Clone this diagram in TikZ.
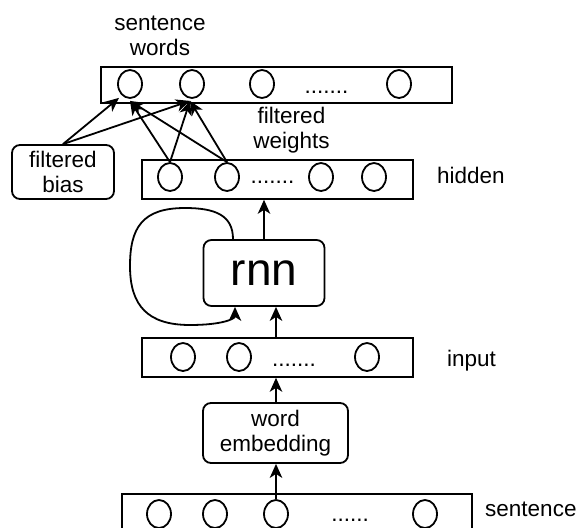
\documentclass[tikz,border=0pt]{standalone}
\usepackage{fontspec}
\setmainfont{Liberation Sans}
\usetikzlibrary{shapes.geometric,arrows.meta,calc}

\begin{document}
\begin{tikzpicture}[x=1pt,y=-1pt,
  every node/.style={font=\fontsize{22.5}{25.5}\selectfont},
  lw/.style={line width=1.8pt},
  layer/.style={draw, lw, rectangle, anchor=north west, inner sep=0},
  unit/.style={draw, lw, ellipse, minimum width=24pt, minimum height=28pt, inner sep=0},
  rbox/.style={draw, lw, rounded corners=8pt, align=center, inner sep=0},
  link/.style={lw, -{Stealth[length=14pt,width=12.5pt,inset=4pt]}},
  dots/.style={anchor=base, inner sep=0},
  lbl/.style={align=center, inner sep=0}
]
\useasboundingbox (0,0) rectangle (580,527);
\clip (0,0) rectangle (580,527);

% output layer: sentence words
\node[layer, minimum width=351pt, minimum height=36pt] (wordsbox) at (100,66) {};
\node[unit] (t1) at (130,84) {};
\node[unit] (t2) at (192,84) {};
\node[unit] (t3) at (262,84) {};
\node[unit] (t4) at (399,84) {};
\node[dots] (tdots) at (326.5,93) {.......};

% hidden layer
\node[layer, minimum width=271pt, minimum height=39pt] (hidbox) at (141,159) {};
\node[unit] (h1) at (170,177) {};
\node[unit] (h2) at (227,177) {};
\node[unit] (h3) at (321,177) {};
\node[unit] (h4) at (374,177) {};
\node[dots] (hdots) at (272.5,183) {.......};

% input layer
\node[layer, minimum width=271pt, minimum height=39pt] (inbox) at (141,337) {};
\node[unit] (i1) at (183,357) {};
\node[unit] (i2) at (239,357) {};
\node[unit] (i3) at (367,357) {};
\node[dots] (idots) at (294,366) {.......};

% sentence layer
\node[layer, minimum width=350pt, minimum height=60pt] (sentbox) at (121,493) {};
\node[unit] (s1) at (159,514) {};
\node[unit] (s2) at (215,514) {};
\node[unit] (s3) at (276,514) {};
\node[unit] (s4) at (425,514) {};
\node[dots] (sdots) at (350,521) {......};

% processing blocks
\node[rbox, minimum width=121pt, minimum height=66pt,
      font=\fontsize{46}{50}\selectfont] (rnn) at (264,273) {rnn};
\node[rbox, minimum width=145pt, minimum height=60pt] (emb) at (275.5,433) {word\\embedding};
\node[rbox, minimum width=102pt, minimum height=54pt] (bias) at (63,172) {filtered\\bias};

% labels
\node[lbl] (outlbl) at (160,36) {sentence\\words};
\node[lbl] (wlbl) at (291.5,130) {filtered\\weights};
\node[anchor=base west, inner sep=0] (hidlbl) at (437,183) {hidden};
\node[anchor=base west, inner sep=0] (inlbl) at (447,366) {input};
\node[anchor=base west, inner sep=0] (sentlbl) at (485,516) {sentence};

% vertical flow
\draw[link] (s3.north) -- (s3.north |- emb.south);
\draw[link] (s3.north |- emb.north) -- (s3.north |- inbox.south);
\draw[link] (s3.north |- inbox.north) -- (s3.north |- rnn.south);
\draw[link] (rnn.north) -- (rnn.north |- hidbox.south);

% recurrent loop
\draw[link] ($(rnn.north)+(-31,0)$)
  .. controls +(0,-24) and (215,208) .. (185,208)
  .. controls (142,208) and (130,228) .. (130,266)
  .. controls (130,306) and (148,325) .. (190,325)
  .. controls (222,325) and ($(rnn.south)+(-29,12)$) .. ($(rnn.south)+(-29,0)$);

% filtered weights and bias into the output units
\draw[link] (bias.north) -- ($(t1.south)+(-11,-1)$);
\draw[link] (bias.north) -- ($(t2.south)+(-2,2)$);
\draw[link] (h1.north) -- ($(t1.south)+(0,2)$);
\draw[link] (h2.north) -- ($(t1.south)+(0,2)$);
\draw[link] (h1.north) -- ($(t2.south)+(-2,2)$);
\draw[link] (h2.north) -- ($(t2.south)+(-2,2)$);
\end{tikzpicture}
\end{document}
